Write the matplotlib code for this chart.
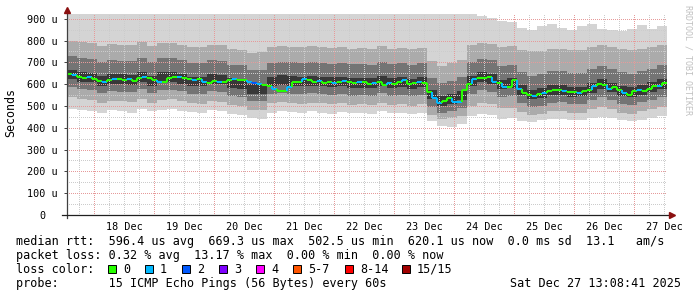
import numpy as np
import matplotlib
matplotlib.use("Agg")
import matplotlib.pyplot as plt
from matplotlib.collections import LineCollection
from matplotlib.patches import Rectangle
from datetime import datetime, timedelta

# graph covers 10 days ending at the render time
end_time = datetime(2025, 12, 27, 13, 8, 41)
span_hours = 240

# median rtt (us), one value per 2 hours
median_rtt = [645, 640, 635, 630, 632, 625, 615, 612, 620, 622,
              625, 618, 622, 615, 628, 635, 630, 618, 612, 610,
              628, 635, 632, 628, 625, 620, 625, 612, 605, 615,
              608, 612, 618, 625, 620, 618, 610, 605, 600, 595,
              590, 580, 570, 568, 585, 608, 612, 622, 618, 612,
              615, 605, 610, 604, 612, 615, 608, 605, 612, 608,
              600, 605, 610, 598, 604, 600, 608, 620, 600, 606,
              610, 604, 565, 535, 515, 525, 538, 520, 518, 575,
              600, 625, 630, 628, 632, 610, 605, 588, 585, 620,
              580, 560, 552, 548, 555, 560, 570, 572, 575, 570,
              562, 565, 560, 568, 572, 590, 600, 595, 580, 585,
              575, 558, 552, 568, 575, 570, 578, 590, 592, 605]

# lost pings (of 15) per 2 hour step
loss_count = [0, 1, 0, 0, 1, 0, 0, 1, 0, 1,
              0, 0, 1, 0, 0, 1, 0, 0, 1, 0,
              0, 0, 1, 0, 0, 1, 0, 1, 0, 0,
              1, 0, 0, 1, 0, 0, 1, 2, 1, 0,
              0, 1, 0, 0, 1, 0, 0, 1, 0, 0,
              1, 0, 0, 1, 0, 1, 0, 0, 1, 0,
              0, 1, 0, 0, 1, 0, 0, 1, 0, 0,
              1, 0, 0, 1, 1, 0, 0, 1, 1, 0,
              0, 1, 0, 0, 0, 1, 0, 1, 0, 0,
              1, 0, 0, 1, 0, 1, 0, 0, 0, 1,
              0, 0, 1, 0, 0, 1, 0, 0, 1, 0,
              0, 1, 0, 0, 1, 0, 0, 0, 1, 0]

# smoke: sorted ping ranks (us), one value per 4 hours
ping_min = [485, 480, 478, 470, 482, 475, 470, 488, 476, 480,
            485, 478, 472, 468, 480, 476, 462, 458, 445, 440,
            470, 478, 472, 468, 475, 470, 465, 472, 466, 470,
            462, 475, 468, 470, 464, 468, 430, 410, 405, 418,
            455, 462, 458, 440, 445, 432, 428, 435, 440, 442,
            436, 438, 445, 450, 444, 436, 430, 438, 445, 452]
ping_lo3 = [540, 532, 528, 515, 525, 522, 518, 532, 515, 528,
            530, 522, 512, 510, 522, 518, 505, 500, 482, 480,
            512, 518, 515, 510, 516, 512, 508, 512, 505, 508,
            505, 515, 505, 508, 502, 508, 460, 440, 445, 455,
            500, 515, 510, 490, 492, 472, 460, 465, 476, 478,
            470, 470, 485, 495, 485, 470, 465, 475, 485, 495]
ping_lo5 = [585, 577, 573, 558, 568, 565, 563, 577, 559, 575,
            575, 567, 555, 555, 567, 564, 547, 543, 522, 521,
            555, 560, 557, 555, 559, 555, 551, 555, 548, 549,
            547, 559, 548, 552, 545, 552, 495, 468, 478, 492,
            555, 572, 566, 541, 547, 515, 497, 502, 516, 517,
            508, 509, 526, 542, 527, 511, 505, 517, 529, 543]
ping_lo7 = [622, 612, 608, 593, 603, 600, 598, 612, 594, 610,
            610, 602, 590, 590, 602, 599, 582, 578, 555, 556,
            590, 595, 592, 590, 594, 590, 586, 590, 583, 584,
            582, 594, 583, 587, 580, 587, 530, 500, 511, 526,
            592, 609, 601, 576, 582, 550, 530, 537, 551, 552,
            543, 544, 561, 577, 562, 546, 540, 552, 564, 578]
ping_hi7 = [667, 657, 653, 638, 648, 645, 643, 657, 639, 655,
            655, 647, 635, 635, 647, 644, 627, 623, 600, 601,
            635, 640, 637, 635, 639, 635, 631, 635, 628, 629,
            627, 639, 628, 632, 625, 632, 575, 545, 556, 571,
            637, 654, 646, 621, 627, 595, 575, 582, 596, 597,
            588, 589, 606, 622, 607, 591, 585, 597, 609, 623]
ping_hi5 = [730, 720, 716, 700, 712, 708, 706, 720, 702, 718,
            718, 710, 698, 698, 710, 707, 690, 686, 663, 664,
            698, 703, 700, 698, 702, 698, 694, 698, 691, 692,
            690, 702, 691, 695, 688, 695, 630, 605, 616, 632,
            700, 717, 709, 684, 690, 658, 638, 645, 659, 660,
            651, 652, 669, 685, 670, 654, 648, 660, 672, 686]
ping_hi3 = [800, 792, 788, 775, 785, 780, 778, 792, 774, 790,
            790, 782, 770, 770, 782, 779, 762, 758, 745, 746,
            770, 775, 772, 770, 774, 770, 766, 770, 763, 764,
            762, 774, 763, 767, 760, 767, 705, 685, 695, 712,
            780, 790, 785, 770, 775, 755, 750, 752, 760, 762,
            758, 758, 770, 780, 772, 760, 755, 762, 770, 780]
ping_max = [925, 925, 925, 925, 925, 925, 925, 925, 925, 925,
            925, 925, 925, 925, 925, 925, 925, 925, 925, 925,
            925, 925, 925, 925, 925, 925, 925, 925, 925, 925,
            925, 925, 925, 925, 925, 925, 925, 925, 925, 925,
            925, 915, 905, 890, 885, 860, 850, 865, 875, 860,
            850, 865, 875, 855, 848, 842, 855, 870, 855, 865]

loss_colors = ['#26ff00', '#00b8ff', '#0059ff', '#7e00ff',
               '#ff00ff', '#ff5500', '#ff0000', '#a10000']
loss_labels = ['0', '1', '2', '3', '4', '5-7', '8-14', '15/15']

y_ticks = [0, 100, 200, 300, 400, 500, 600, 700, 800, 900]

legend_rows = [
    "median rtt:  596.4 us avg  669.3 us max  502.5 us min  620.1 us now  0.0 ms sd  13.1   am/s",
    "packet loss: 0.32 % avg  13.17 % max  0.00 % min  0.00 % now",
    "loss color:",
    "probe:       15 ICMP Echo Pings (56 Bytes) every 60s",
]

W, H = 697, 297
MONO = 'DejaVu Sans Mono'
plt.rcParams['font.family'] = MONO

fig = plt.figure(figsize=(W / 100, H / 100), dpi=100)
fig.patch.set_facecolor('white')
ax = fig.add_axes([67 / W, (H - 215) / H, 600 / W, 201 / H])
ax.set_xlim(0, span_hours)
ax.set_ylim(0, 922)
for s in ax.spines.values():
    s.set_visible(False)

# smoke bands
n_smoke = len(ping_min)
xb = np.linspace(0, span_hours, n_smoke + 1)
bands = [(ping_min, ping_max, '#d4d4d4'),
         (ping_lo3, ping_hi3, '#ababab'),
         (ping_lo5, ping_hi5, '#747474'),
         (ping_lo7, ping_hi7, '#383838')]
for lo, hi, col in bands:
    ax.fill_between(xb, np.append(lo, lo[-1]), np.append(hi, hi[-1]),
                    step='post', color=col, lw=0, zorder=1)

# grid (drawn over the smoke like rrdtool)
start = end_time - timedelta(hours=span_hours)


def hours_of(t):
    return (t - start).total_seconds() / 3600.0


day0 = datetime(start.year, start.month, start.day)
midnights, minors, noons = [], [], []
t = day0
while t <= end_time + timedelta(days=1):
    for h in (6, 12, 18):
        hh = hours_of(t + timedelta(hours=h))
        if 0 < hh < span_hours:
            minors.append(hh)
    hm = hours_of(t)
    if 0 < hm < span_hours:
        midnights.append(hm)
    hn = hours_of(t + timedelta(hours=12))
    if 0 < hn < span_hours:
        noons.append((hn, (t + timedelta(hours=12)).strftime('%d %b')))
    t += timedelta(days=1)

dot = (0, (1, 2))
gkw = dict(lw=0.72, ls=dot, zorder=2, antialiased=False)
for v in range(50, 922, 100):
    ax.axhline(v, color='#cccccc', **gkw)
for h in minors:
    ax.axvline(h, color='#cccccc', **gkw)
for v in y_ticks[1:]:
    ax.axhline(v, color='#e69a9a', **gkw)
for h in midnights:
    ax.axvline(h, color='#e69a9a', **gkw)

# median line coloured by loss
n_med = len(median_rtt)
xm = np.linspace(0, span_hours, n_med + 1)
segs, cols = [], []
for i in range(n_med):
    c = loss_colors[loss_count[i]]
    if i > 0:
        segs.append([(xm[i], median_rtt[i - 1]), (xm[i], median_rtt[i])])
        cols.append(c)
    segs.append([(xm[i], median_rtt[i]), (xm[i + 1], median_rtt[i])])
    cols.append(c)
ax.add_collection(LineCollection(segs, colors=cols, linewidths=1.5,
                                 capstyle='butt', zorder=4))

# axes lines with arrows
ax.plot([0, 0], [-3 / 201, 1.015], transform=ax.transAxes, color='#404040',
        lw=0.9, clip_on=False, zorder=5)
ax.plot([-5 / 600, 1.005], [0, 0], transform=ax.transAxes, color='#202020',
        lw=0.9, clip_on=False, zorder=5)
ax.plot([0], [1.02], marker='^', ms=4.2, color='#8b1010',
        transform=ax.transAxes, clip_on=False, zorder=6)
ax.plot([1.008], [0], marker='>', ms=4.2, color='#8b1010',
        transform=ax.transAxes, clip_on=False, zorder=6)

# ticks and labels
ax.set_yticks(y_ticks)
ax.set_yticklabels([f"{v} u" if v else "0  " for v in y_ticks])
ax.tick_params(axis='y', length=2.2, width=0.7, color='#404040', pad=4.3,
               labelsize=7.3)
ax.set_xticks([n[0] for n in noons])
ax.set_xticklabels([n[1] for n in noons])
ax.tick_params(axis='x', length=0, pad=5.2, labelsize=7.3)

fig.text(11 / W, 1 - 113 / H, "Seconds", rotation=90, fontsize=8.4,
         ha='center', va='center')
fig.text(688 / W, 1 - 60 / H, "RRDTOOL / TOBI OETIKER", rotation=270,
         fontsize=6, color='#c0c0c0', ha='center', va='center')

# legend block
row_y = [241.5, 255.5, 269.5, 283.5]
for txt, y in zip(legend_rows, row_y):
    fig.text(16 / W, 1 - y / H, txt, fontsize=8.45, ha='left', va='center')
fig.text(681 / W, 1 - row_y[3] / H, "Sat Dec 27 13:08:41 2025",
         fontsize=8.45, ha='right', va='center')

box_x = [108, 145, 182, 219, 256, 293, 345, 402]
for bx, col, lab in zip(box_x, loss_colors, loss_labels):
    fig.patches.append(Rectangle((bx / W, 1 - 273 / H), 8 / W, 8 / H,
                                 transform=fig.transFigure, facecolor=col,
                                 edgecolor='black', lw=0.7))
    fig.text((bx + 15) / W, 1 - row_y[2] / H, lab, fontsize=8.45,
             ha='left', va='center')

fig.savefig('out.png', dpi=100)
